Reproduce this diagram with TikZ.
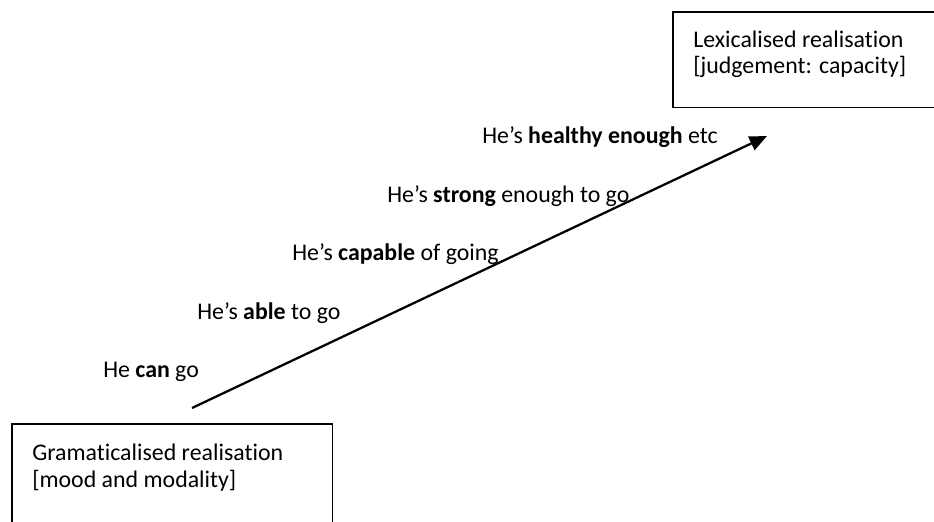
\documentclass[tikz,border=0pt]{standalone}
\usepackage{fontspec}
\setmainfont{Carlito}[Ligatures=NoCommon]
\usetikzlibrary{arrows.meta}
\begin{document}
\begin{tikzpicture}[x=0.75pt,y=-0.75pt]
  \tikzset{
    realbox/.style={inner sep=0pt, anchor=north west},
    boxedge/.style={draw=black, line width=1.1pt},
    txt/.style={anchor=base west, inner sep=0pt, font=\fontsize{17.9}{21}\selectfont},
    scaleline/.style={draw=black, line width=1.7pt, -{Triangle[length=13pt,width=11pt]}}
  }
  % page frame; the two boxes run off its edges
  \useasboundingbox (0,0) rectangle (934,521);
  \clip (0,0) rectangle (934,521);

  % end boxes, each open on the side that leaves the page
  \node[realbox, minimum width=260pt, minimum height=71.25pt] (lex) at (673,12) {};
  \node[realbox, minimum width=240pt, minimum height=100pt] (gram) at (12,424) {};
  \draw[boxedge] (lex.north east) -- (lex.north west) -- (lex.south west) -- (lex.south east);
  \draw[boxedge] (gram.south west) -- (gram.north west) -- (gram.north east) -- (gram.south east);
  \node[txt] (lexA) at (693,47) {Lexicalised realisation};
  \node[txt] (lexB) at (693,73) {[judgement: capacity]};
  \node[txt] (gramA) at (32,460) {Gramaticalised realisation};
  \node[txt] (gramB) at (32,487) {[mood and modality]};

  % cline from grammatical to lexical realisation
  \coordinate (low) at (192,408);
  \coordinate (high) at (767,136);
  \draw[scaleline] (low) -- (high);

  % realisations along the cline
  \node[txt] (r1) at (103,377) {He \textbf{can} go};
  \node[txt] (r2) at (197,319) {He’s \textbf{able} to go};
  \node[txt] (r3) at (292,260) {He’s \textbf{capable} of going};
  \node[txt] (r4) at (387,202) {He’s \textbf{strong} enough to go};
  \node[txt] (r5) at (482,143) {He’s \textbf{healthy enough} etc};
\end{tikzpicture}
\end{document}
